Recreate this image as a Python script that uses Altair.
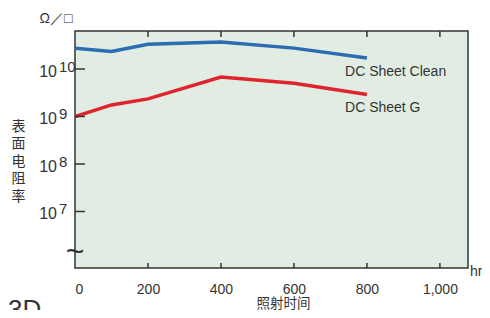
import altair as alt
import pandas as pd

hours = [0, 100, 200, 400, 600, 800]
clean = [2.75e10, 2.35e10, 3.3e10, 3.7e10, 2.75e10, 1.7e10]
sheet_g = [1.0e9, 1.75e9, 2.35e9, 6.8e9, 5.0e9, 2.9e9]
series_names = ["DC Sheet Clean", "DC Sheet G"]
series_colors = ["#2b6cb3", "#e0242b"]

x_ticks = [0, 200, 400, 600, 800, 1000]
y_ticks = [1e7, 1e8, 1e9, 1e10]
y_exps = ["7", "8", "9", "10"]

label_x = [740, 740]
label_y = [8.7e9, 1.52e9]

W, H = 393, 237
FONT = "Liberation Sans"
TXT = "#333333"

rows = []
for h, c, g in zip(hours, clean, sheet_g):
    rows.append({"hr": h, "v": c, "s": series_names[0]})
    rows.append({"hr": h, "v": g, "s": series_names[1]})
df = pd.DataFrame(rows)

xs = alt.Scale(domain=[0, 1077], nice=False, zero=False)
ys = alt.Scale(type="log", domain=[10**5.81, 10**10.8], nice=False)

base = alt.Chart(df)

lines = base.mark_line(strokeWidth=3.5, clip=True).encode(
    x=alt.X("hr:Q", scale=xs,
            axis=alt.Axis(values=x_ticks, format=",d", domain=False, ticks=False,
                          grid=False, labelFont=FONT, labelFontSize=14,
                          labelColor=TXT, labelPadding=14,
                          title="照射时间", titleFont="Noto Sans CJK SC",
                          titleFontSize=13.5, titleFontWeight="normal",
                          titleColor=TXT, titleX=208, titleY=42,
                          titleBaseline="bottom")),
    y=alt.Y("v:Q", scale=ys,
            axis=alt.Axis(labels=False, ticks=False, domain=False, grid=False,
                          title=["表", "面", "电", "阻", "率"], titleAngle=0,
                          titleFont="Noto Sans CJK SC", titleFontSize=14,
                          titleFontWeight="normal", titleColor=TXT,
                          titleX=-57, titleY=88, titleLineHeight=17.5,
                          titleAlign="center", titleBaseline="top")),
    color=alt.Color("s:N", scale=alt.Scale(domain=series_names, range=series_colors),
                    legend=None),
)

lab_df = pd.DataFrame({"hr": label_x, "v": label_y, "t": series_names})
labels = alt.Chart(lab_df).mark_text(align="left", baseline="middle", font=FONT,
                                     fontSize=14, color=TXT).encode(
    x=alt.X("hr:Q", scale=xs), y=alt.Y("v:Q", scale=ys), text="t:N")

xt_df = pd.DataFrame({"hr": x_ticks[1:]})
xt_bot = alt.Chart(xt_df).mark_rule(color=TXT, strokeWidth=1.5).encode(
    x=alt.X("hr:Q", scale=xs), y=alt.value(H), y2=alt.value(H - 5))
xt_top = alt.Chart(xt_df).mark_rule(color=TXT, strokeWidth=1.5).encode(
    x=alt.X("hr:Q", scale=xs), y=alt.value(0), y2=alt.value(6))

yt_df = pd.DataFrame({"v": y_ticks, "e": y_exps, "b": ["10"] * 4})
yt = alt.Chart(yt_df).mark_rule(color=TXT, strokeWidth=1.5).encode(
    y=alt.Y("v:Q", scale=ys), x=alt.value(0), x2=alt.value(10))
yl_base = alt.Chart(yt_df).mark_text(align="right", baseline="alphabetic", dy=8,
                                     font=FONT, fontSize=16, color=TXT).encode(
    y=alt.Y("v:Q", scale=ys), x=alt.value(-18), text="b:N")
yl_exp = alt.Chart(yt_df).mark_text(align="left", baseline="alphabetic", dy=3,
                                    font=FONT, fontSize=15, color=TXT).encode(
    y=alt.Y("v:Q", scale=ys), x=alt.value(-16), text="e:N")

ann_df = pd.DataFrame({"t": ["Ω／□", "hr", "~", "3D"]})
unit = alt.Chart(ann_df).transform_filter(alt.datum.t == "Ω／□").mark_text(
    align="center", baseline="middle", font=FONT, fontSize=14, color=TXT).encode(
    x=alt.value(-19), y=alt.value(-12), text="t:N")
hr = alt.Chart(ann_df).transform_filter(alt.datum.t == "hr").mark_text(
    align="left", baseline="middle", font=FONT, fontSize=14, color=TXT).encode(
    x=alt.value(395), y=alt.value(241), text="t:N")
brk = alt.Chart(ann_df).transform_filter(alt.datum.t == "~").mark_text(
    align="center", baseline="middle", font=FONT, fontSize=32, color=TXT).encode(
    x=alt.value(0), y=alt.value(221), text="t:N")
fig = alt.Chart(ann_df).transform_filter(alt.datum.t == "3D").mark_text(
    align="left", baseline="alphabetic", font=FONT, fontSize=26, color=TXT).encode(
    x=alt.value(-67), y=alt.value(287), text="t:N")

chart = alt.layer(lines, labels, xt_bot, xt_top, yt, yl_base, yl_exp,
                  unit, hr, brk, fig).properties(
    width=W, height=H,
    autosize=alt.AutoSizeParams(type="none"),
    padding={"left": 67, "top": 23, "right": 14, "bottom": 42},
).configure(
    background="white",
    view=alt.ViewConfig(fill="#e1ede3", stroke="#333333", strokeWidth=1.5),
)

chart.save("out.html", embed_options={"renderer": "svg", "actions": False})
